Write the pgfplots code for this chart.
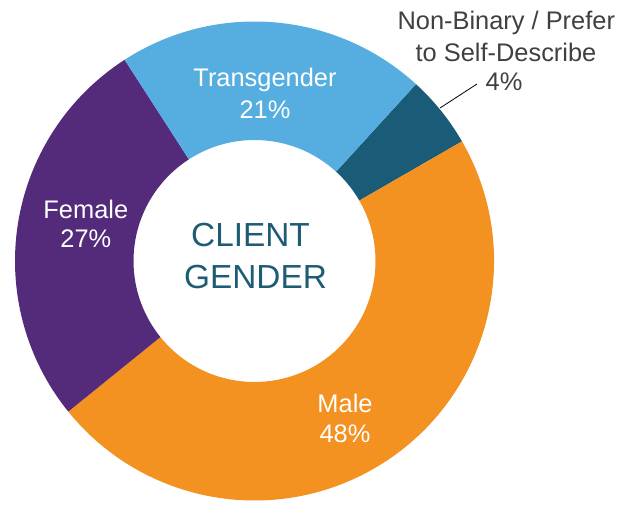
\documentclass[border=0pt]{standalone}
\usepackage{pgfplots}
\pgfplotsset{compat=1.18}
\usepackage{pgfplotstable}
\usepackage{fontspec}
\setmainfont{Liberation Sans}

\definecolor{cNB}{RGB}{26,91,120}
\definecolor{cMale}{RGB}{243,146,32}
\definecolor{cFemale}{RGB}{84,43,123}
\definecolor{cTrans}{RGB}{86,173,224}
\definecolor{cCenter}{RGB}{30,92,115}
\definecolor{cGray}{RGB}{64,64,64}

\tikzset{lbl/.style={anchor=base, font=\fontsize{25.5}{30}\selectfont}}

% share of each slice (%), clockwise from the first cut
\pgfplotstableread{
label       value
NonBinary   4.9
Male        47.5
Female      26.7
Transgender 20.9
}\gender

\begin{document}
\begin{tikzpicture}
% cumulative angles (tikz convention, counter-clockwise from +x)
\pgfplotstablegetelem{0}{value}\of\gender \let\vA\pgfplotsretval
\pgfplotstablegetelem{1}{value}\of\gender \let\vB\pgfplotsretval
\pgfplotstablegetelem{2}{value}\of\gender \let\vC\pgfplotsretval
\pgfplotstablegetelem{3}{value}\of\gender \let\vD\pgfplotsretval
\pgfmathsetmacro\aA{90-42.4}
\pgfmathsetmacro\aB{\aA-3.6*\vA}
\pgfmathsetmacro\aC{\aB-3.6*\vB}
\pgfmathsetmacro\aD{\aC-3.6*\vC}
\pgfmathsetmacro\aE{\aD-3.6*\vD}
\def\cx{254.5}\def\cy{241}\def\Ro{239.5}\def\Ri{121}

\newcommand{\slice}[3]{%
  \fill[#1] (axis cs:{\cx+\Ro*cos(#2)},{\cy+\Ro*sin(#2)})
    arc[start angle=#2, end angle=#3, radius=\Ro]
    -- (axis cs:{\cx+\Ri*cos(#3)},{\cy+\Ri*sin(#3)})
    arc[start angle=#3, end angle=#2, radius=\Ri] -- cycle;}

\begin{axis}[
  scale only axis,
  width=639bp, height=502bp,
  xmin=0, xmax=639, ymin=0, ymax=502,
  hide axis, clip=false,
]
\path (axis cs:0,0) (axis cs:639,502);
\slice{cNB}{\aA}{\aB}
\slice{cMale}{\aB}{\aC}
\slice{cFemale}{\aC}{\aD}
\slice{cTrans}{\aD}{\aE}

\node[lbl, white] at (axis cs:265,415.3) {Transgender};
\node[lbl, white] at (axis cs:265,383.7) {21\%};
\node[lbl, white] at (axis cs:85.8,283.7) {Female};
\node[lbl, white] at (axis cs:85.8,254.7) {27\%};
\node[lbl, white] at (axis cs:345,90) {Male};
\node[lbl, white] at (axis cs:345,60) {48\%};
\node[anchor=base, cCenter, font=\fontsize{33.5}{40}\selectfont] at (axis cs:250.5,255.3) {CLIENT};
\node[anchor=base, cCenter, font=\fontsize{33.5}{40}\selectfont] at (axis cs:255.5,213) {GENDER};
\node[lbl, cGray] at (axis cs:506.3,472.7) {Non-Binary / Prefer};
\node[lbl, cGray] at (axis cs:506,440.3) {to Self-Describe};
\node[lbl, cGray] at (axis cs:504,411.3) {4\%};
\draw[black, line width=0.8pt] (axis cs:440,394) -- (axis cs:477,418);
\end{axis}
\end{tikzpicture}
\end{document}
